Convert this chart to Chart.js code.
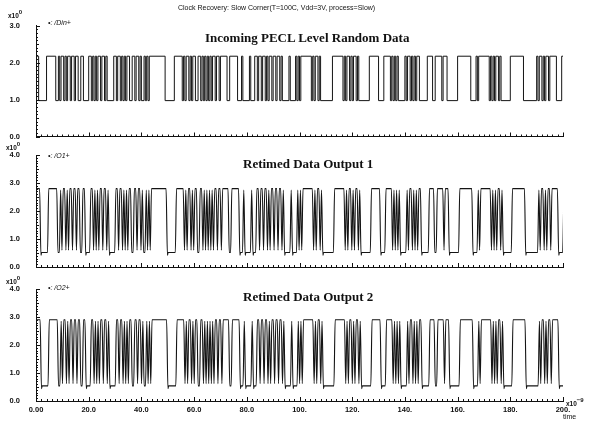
<!DOCTYPE html>
<html><head><meta charset="utf-8">
<script src="https://cdn.jsdelivr.net/npm/chart.js@4/dist/chart.umd.min.js"></script>
<style>
html,body{margin:0;padding:0;background:#fff;}
#wrap{position:relative;width:590px;height:423px;overflow:hidden;background:#fff;}
canvas{position:absolute;left:0;}
.t{position:absolute;white-space:nowrap;color:#111;line-height:1;}
.cap{font:7px "Liberation Sans",Arial,sans-serif;}
.head{font:bold 13px "Liberation Serif","Times New Roman",serif;}
.leg{font:italic 7px "Liberation Sans",Arial,sans-serif;}
.exp{font:bold 6.5px "Liberation Sans",Arial,sans-serif;}
.exp sup{font-size:6px;position:relative;top:-1px;}
</style></head><body>
<div id="wrap">
  <canvas id="c1" width="590" height="160" style="top:0px"></canvas>
  <canvas id="c2" width="590" height="160" style="top:130px"></canvas>
  <canvas id="c3" width="590" height="158" style="top:265px"></canvas>

  <div class="t cap" style="left:178px;top:4px">Clock Recovery: Slow Corner(T=100C, Vdd=3V, process=Slow)</div>

  <div class="t exp" style="left:8px;top:10px">x10<sup>0</sup></div>
  <div class="t leg" style="left:48px;top:19px">&#8226;: /Din+</div>
  <div class="t head" style="left:205px;top:30px">Incoming PECL Level Random Data</div>

  <div class="t exp" style="left:6px;top:142px">x10<sup>0</sup></div>
  <div class="t leg" style="left:48px;top:152px">&#8226;: /O1+</div>
  <div class="t head" style="left:243px;top:156px">Retimed Data Output 1</div>

  <div class="t exp" style="left:6px;top:276px">x10<sup>0</sup></div>
  <div class="t leg" style="left:48px;top:284px">&#8226;: /O2+</div>
  <div class="t head" style="left:243px;top:289px">Retimed Data Output 2</div>

  <div class="t exp" style="left:566px;top:398px">x10<sup>&#8722;9</sup></div>
  <div class="t cap" style="left:563px;top:413px">time</div>
</div>
<script>
// Random data stream, one character per bit, 20 bits (10 ns) per row
const dataBits = [
  '11000000111111100101', '10101101101100110000', '11010101101101000001', '10110101011001101101',
  '00101011111111111100', '00000111111010110101', '10011010101010110110', '11111001111110001000',
  '00100011011011010110', '11011010000010000101', '01111111101011010000', '00000111111110101101',
  '01101000000001111111', '00001111101010100000', '10110101011000000111', '10011111011100000000',
  '11111111110000101111', '11110101011010000000', '11111111110000000000', '10110101101111100001'
];
const bitNs = 0.5;                 // bit period (ns)

// Signal levels (V): [low, high]
const dinLevels = [0.97, 2.17];
const o1Levels  = [0.52, 2.80];
const o2Levels  = [0.54, 2.90];
// Retiming delay of each output (ns)
const o1Delay = 0.6;
const o2Delay = 0.8;

// Axis ticks and labels
const timeTicks  = [0,20,40,60,80,100,120,140,160,180,200];
const timeLabels = ['0.00','20.0','40.0','60.0','80.0','100.','120.','140.','160.','180.','200.'];
const dinTicks = [0,1,2,3];
const outTicks = [0,1,2,3,4];

// Group the bit stream into runs of equal value
function runs(rows){
  const bits = rows.join('');
  const out = [];
  let i = 0;
  while (i < bits.length) {
    let j = i;
    while (j < bits.length && bits[j] === bits[i]) j++;
    out.push({start:i*bitNs, len:(j-i)*bitNs, hi:bits[i]==='1'});
    i = j;
  }
  return out;
}

// Input: ideal square wave held between transitions
function stepSeries(rows, lv){
  const rs = runs(rows);
  const pts = rs.map(r=>({x:r.start, y:lv[r.hi?1:0]}));
  const last = rs[rs.length-1];
  pts.push({x:last.start+last.len, y:lv[last.hi?1:0]});
  return pts;
}

// Outputs: settled level inside each run, slewed edges between runs,
// short undershoot at the start of longer lows
function slewSeries(rows, lv, delay){
  const rs = runs(rows);
  const pts = [{x:0, y:lv[1]}];
  rs.forEach(r=>{
    const s = r.start + delay, e = s + r.len, v = lv[r.hi?1:0];
    if (r.len > bitNs) {
      if (!r.hi && r.len > 2*bitNs) {
        pts.push({x:s+0.28, y:v-0.1});
        pts.push({x:s+0.55, y:v});
      } else {
        pts.push({x:s+0.24, y:v});
      }
      pts.push({x:e-0.24, y:v});
    } else {
      pts.push({x:s+bitNs/2, y: r.hi ? v-0.05 : v+0.08});
    }
  });
  return pts;
}

// Small inward tick marks along both axes
const axisTicks = {
  id:'axisTicks',
  afterDraw(chart, args, opts){
    const {ctx, chartArea:a, scales:{x, y}} = chart;
    ctx.save();
    ctx.strokeStyle = '#111';
    ctx.lineWidth = 1;
    ctx.beginPath();
    for (let t = 0; t <= 200.001; t += 2) {
      const px = Math.round(x.getPixelForValue(t)) + 0.5;
      const len = (Math.round(t) % 20 === 0) ? 4 : 2;
      ctx.moveTo(px, a.bottom); ctx.lineTo(px, a.bottom - len);
    }
    for (let k = 0; k <= opts.max*10 + 0.001; k++) {
      const py = Math.round(y.getPixelForValue(k/10)) + 0.5;
      const len = (k % 10 === 0) ? 4 : (k % 5 === 0 ? 3 : 2);
      ctx.moveTo(a.left, py); ctx.lineTo(a.left + len, py);
    }
    ctx.stroke();
    ctx.restore();
  }
};

const tickFont = {family:'"Liberation Sans", Arial, sans-serif', size:7.5, weight:'bold'};

function panel(id, data, opt){
  const cv = document.getElementById(id);
  const H = cv.height;
  return new Chart(cv, {
    type:'line',
    data:{datasets:[{
      data, borderColor:'#141414', borderWidth:opt.lw, pointRadius:0,
      stepped: opt.stepped || false,
      cubicInterpolationMode: opt.stepped ? 'default' : 'monotone',
      fill:false
    }]},
    options:{
      responsive:false, animation:false, devicePixelRatio:1,
      layout:{padding:{left:0, right:27, top:opt.top, bottom:0}},
      plugins:{legend:{display:false}, tooltip:{enabled:false}, axisTicks:{max:opt.max}},
      scales:{
        x:{type:'linear', min:0, max:200,
           afterBuildTicks:s=>{ s.ticks = timeTicks.map(v=>({value:v})); },
           afterFit:s=>{ s.height = H - opt.bottom; },
           grid:{drawOnChartArea:false, drawTicks:false},
           border:{display:true, color:'#111', width:1},
           ticks:{display:opt.showX, padding:4, color:'#111', font:tickFont, maxRotation:0, autoSkip:false,
                  callback:(v)=>{ const i = timeTicks.indexOf(v); return i>=0 ? timeLabels[i] : ''; }}},
        y:{type:'linear', min:0, max:opt.max,
           afterBuildTicks:s=>{ s.ticks = opt.ticks.map(v=>({value:v})); },
           afterFit:s=>{ s.width = 36; },
           grid:{drawOnChartArea:false, drawTicks:true, tickLength:14, tickColor:'rgba(0,0,0,0)'},
           border:{display:true, color:'#111', width:1},
           ticks:{padding:2, color:'#111', font:tickFont, callback:v=>Number(v).toFixed(1)}}
      }
    },
    plugins:[axisTicks]
  });
}

panel('c1', stepSeries(dataBits, dinLevels), {stepped:true, lw:1, max:3, ticks:dinTicks, top:25.5, bottom:136.5, showX:false});
panel('c2', slewSeries(dataBits, o1Levels, o1Delay), {lw:1.1, max:4, ticks:outTicks, top:25, bottom:137, showX:false});
panel('c3', slewSeries(dataBits, o2Levels, o2Delay), {lw:1.1, max:4, ticks:outTicks, top:24, bottom:136, showX:true});
</script>
</body></html>
